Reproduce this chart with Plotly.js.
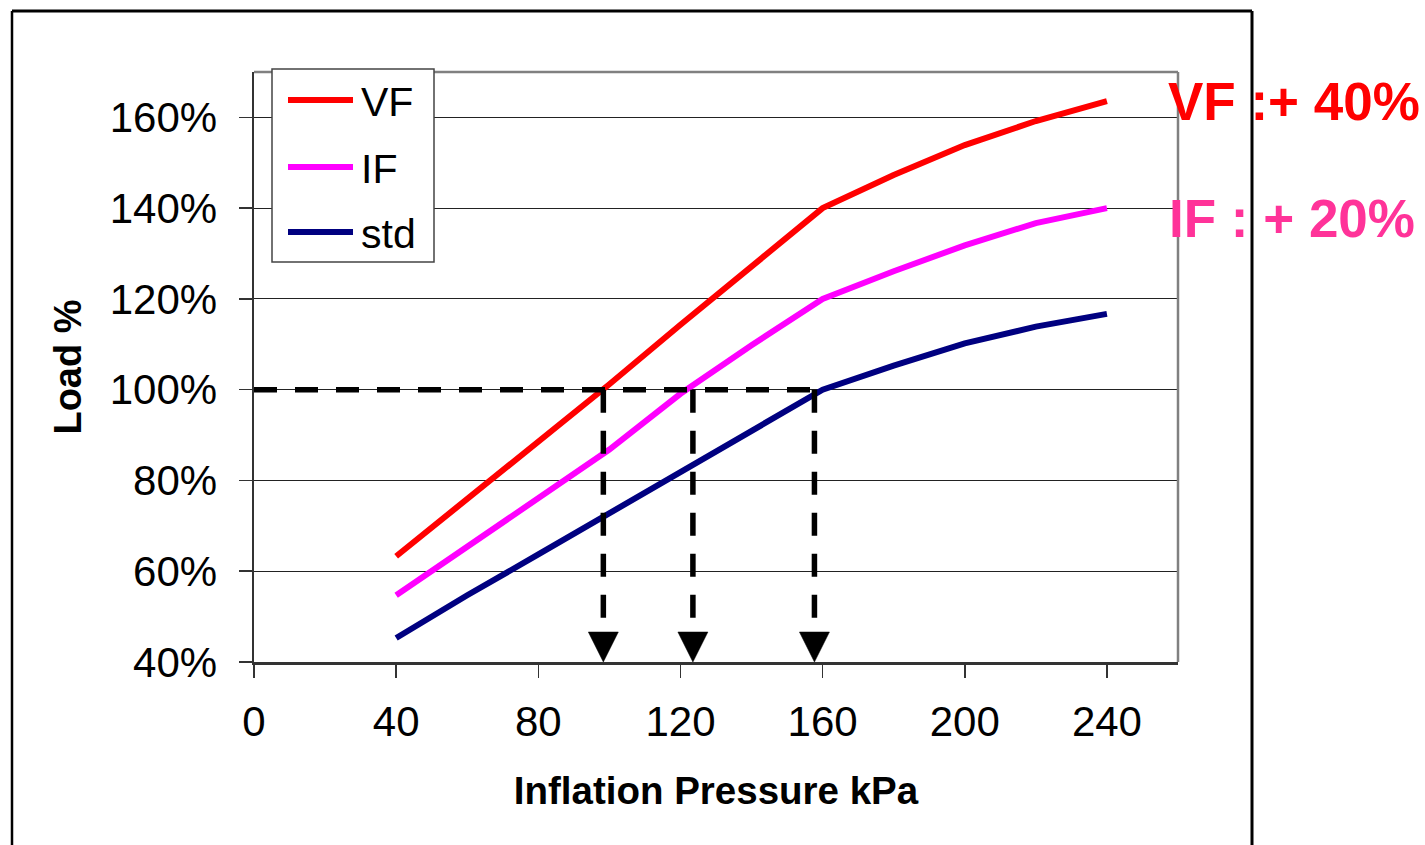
<!DOCTYPE html>
<html>
<head>
<meta charset="utf-8">
<script src="https://cdn.plot.ly/plotly-3.0.1.min.js"></script>
<style>html,body{margin:0;padding:0;background:#fff;}#chart{width:1425px;height:845px;}</style>
</head>
<body>
<div id="chart"></div>
<script>
// ---- data ----
const pressure = [40, 60, 80, 100, 120, 140, 160, 180, 200, 220, 240];
const loadVF  = [63.3, 75.9, 88.8, 101.2, 114.3, 127.3, 140, 147.3, 153.9, 159.2, 163.6];
const loadIF  = [54.7, 65.5, 76.0, 86.8, 99.1, 109.8, 120, 126.1, 131.8, 136.7, 140];
const loadSTD = [45.3, 54.7, 63.7, 72.7, 81.8, 91.0, 100, 105.3, 110.2, 113.9, 116.7];
const seriesNames = ['VF', 'IF', 'std'];
const refLoad = 100;
const crossPressure = [98.3, 123.5, 157.7];
const xTicks = [0, 40, 80, 120, 160, 200, 240];
const yTicks = [40, 60, 80, 100, 120, 140, 160];
const noteVF = 'VF :+ 40%';
const noteIF = 'IF : + 20%';

// ---- layout geometry ----
const W = 1425, H = 845;
const M = {l: 254, r: 247, t: 72, b: 183};
const pw = W - M.l - M.r, ph = H - M.t - M.b;
const xRange = [0, 260], yRange = [40, 170];
const pxX = (xRange[1] - xRange[0]) / pw;   // data units per px
const pxY = (yRange[1] - yRange[0]) / ph;
const px2paperX = x => (x - M.l) / pw;
const px2paperY = y => (H - M.b - y) / ph;

const FONT = 'Liberation Sans, Arial, sans-serif';
const colors = ['#FF0000', '#FF00FF', '#000080'];

const traces = [];
[loadVF, loadIF, loadSTD].forEach((ys, i) => {
  traces.push({x: pressure, y: ys, type: 'scatter', mode: 'lines', name: seriesNames[i],
    line: {color: colors[i], width: 6}, hoverinfo: 'x+y+name'});
});

// dashed guide lines
const dash = '23px,18px';
const triH = 30 * pxY, triHalf = 15 * pxX;
traces.push({x: [0, Math.max(...crossPressure)], y: [refLoad, refLoad], type: 'scatter', mode: 'lines',
  line: {color: '#000', width: 5.5, dash: dash}, showlegend: false, hoverinfo: 'skip'});
crossPressure.forEach(p => {
  traces.push({x: [p, p], y: [refLoad, yRange[0] + triH], type: 'scatter', mode: 'lines',
    line: {color: '#000', width: 5.5, dash: dash}, showlegend: false, hoverinfo: 'skip'});
});
// arrow heads
const tx = [], ty = [];
crossPressure.forEach(p => {
  tx.push(p - triHalf, p + triHalf, p, p - triHalf, null);
  ty.push(yRange[0] + triH, yRange[0] + triH, yRange[0], yRange[0] + triH, null);
});
traces.push({x: tx, y: ty, type: 'scatter', mode: 'lines', fill: 'toself', fillcolor: '#000',
  line: {color: '#000', width: 0.5}, showlegend: false, hoverinfo: 'skip'});

// frame & plot border & legend box
const shapes = [];
const fx0 = px2paperX(12), fx1 = px2paperX(1252), fyTop = px2paperY(11), fyBot = px2paperY(900);
shapes.push({type: 'line', xref: 'paper', yref: 'paper', x0: fx0, x1: fx1, y0: fyTop, y1: fyTop, line: {color: '#000', width: 3}});
shapes.push({type: 'line', xref: 'paper', yref: 'paper', x0: fx0, x1: fx0, y0: fyTop, y1: fyBot, line: {color: '#000', width: 2.5}});
shapes.push({type: 'line', xref: 'paper', yref: 'paper', x0: fx1, x1: fx1, y0: fyTop, y1: fyBot, line: {color: '#000', width: 3}});
shapes.push({type: 'line', xref: 'paper', yref: 'paper', x0: 0, x1: 1, y0: 1, y1: 1, line: {color: '#808080', width: 2.5}});
shapes.push({type: 'line', xref: 'paper', yref: 'paper', x0: 1, x1: 1, y0: 0, y1: 1, line: {color: '#808080', width: 2.5}});
// legend
shapes.push({type: 'rect', xref: 'paper', yref: 'paper', layer: 'above',
  x0: px2paperX(272), x1: px2paperX(434), y0: px2paperY(262), y1: px2paperY(69),
  fillcolor: '#fff', line: {color: '#444', width: 1.5}});
const legY = [100, 167, 232];
const annotations = [];
seriesNames.forEach((n, i) => {
  shapes.push({type: 'line', xref: 'paper', yref: 'paper', layer: 'above',
    x0: px2paperX(288), x1: px2paperX(353), y0: px2paperY(legY[i]), y1: px2paperY(legY[i]),
    line: {color: colors[i], width: 6}});
  annotations.push({xref: 'paper', yref: 'paper', x: px2paperX(359), y: px2paperY(legY[i] + 2),
    xanchor: 'left', yanchor: 'middle', showarrow: false, text: n,
    font: {family: FONT, size: 41, color: '#000'}});
});
annotations.push({xref: 'paper', yref: 'paper', x: px2paperX(1166), y: px2paperY(102),
  xanchor: 'left', yanchor: 'middle', showarrow: false, text: '<b>' + noteVF + '</b>',
  font: {family: FONT, size: 53, color: '#FF0000'}});
annotations.push({xref: 'paper', yref: 'paper', x: px2paperX(1167), y: px2paperY(218),
  xanchor: 'left', yanchor: 'middle', showarrow: false, text: '<b>' + noteIF + '</b>',
  font: {family: FONT, size: 53, color: '#FF3399'}});

const layout = {
  width: W, height: H, margin: M, showlegend: false,
  paper_bgcolor: '#fff', plot_bgcolor: '#fff',
  font: {family: FONT, size: 42, color: '#000'},
  xaxis: {range: xRange, tickvals: xTicks, ticktext: xTicks.map(String), ticks: 'outside', ticklen: 13,
    tickwidth: 1.5, tickcolor: '#333', showgrid: false, zeroline: false, showline: true,
    linecolor: '#333', linewidth: 2.5, tickfont: {family: FONT, size: 42, color: '#000'},
    ticklabelstandoff: 8,
    title: {text: '<b>Inflation Pressure kPa</b>', font: {family: FONT, size: 38.5, color: '#000'}, standoff: 33}},
  yaxis: {range: yRange, tickvals: yTicks, ticktext: yTicks.map(v => v + '%'), ticks: 'outside', ticklen: 13,
    tickwidth: 1.5, tickcolor: '#333', showgrid: true, gridcolor: '#222', gridwidth: 1, zeroline: false,
    showline: true, linecolor: '#333', linewidth: 2.5, tickfont: {family: FONT, size: 42, color: '#000'},
    ticklabelstandoff: 13,
    title: {text: '<b>Load %</b>', font: {family: FONT, size: 38, color: '#000'}, standoff: 17}},
  shapes: shapes, annotations: annotations
};

Plotly.newPlot('chart', traces, layout, {displayModeBar: false, staticPlot: true});
</script>
</body>
</html>
